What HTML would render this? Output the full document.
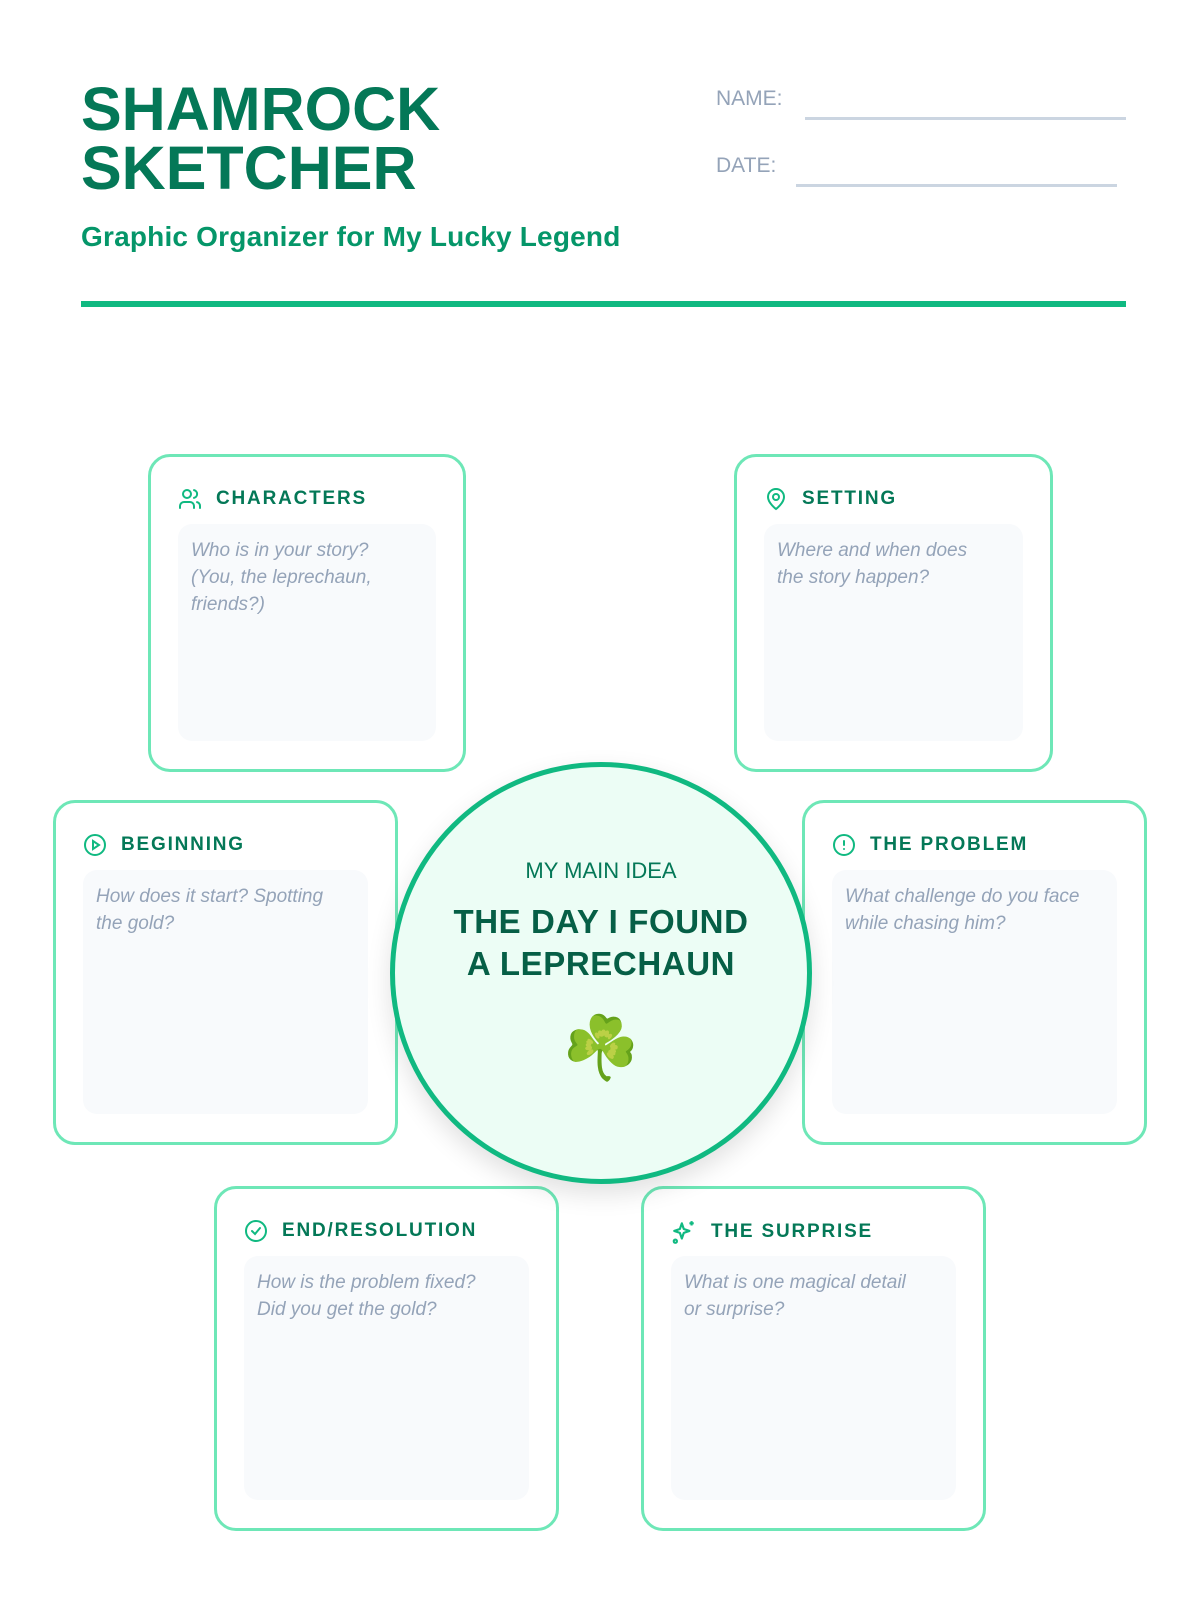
<!DOCTYPE html>
<html><head><meta charset="utf-8"><style>
*{box-sizing:border-box;margin:0;padding:0}
body{width:1200px;height:1600px;background:#fff;position:relative;font-family:"Liberation Sans",sans-serif;overflow:hidden}
.t{position:absolute;left:81px;top:80px;font-size:61px;font-weight:900;color:#047857;line-height:59px;letter-spacing:0px}
.sub{position:absolute;left:81px;top:221px;font-size:28px;color:#059669;font-weight:700;letter-spacing:0.2px}
.lab{position:absolute;font-size:21px;color:#94a3b8}
.ln{position:absolute;height:3px;background:#cbd5e1}
.bar{position:absolute;left:81px;top:301px;width:1045px;height:6px;background:#10b981}
.card{position:absolute;border:3px solid #6ee7b7;border-radius:22px;background:#fff}
.hd{position:absolute;left:27px;top:30px;display:flex;align-items:center;font-size:19px;font-weight:700;color:#047857;letter-spacing:1.8px}
.hd svg{margin-right:14px}
.in{position:absolute;left:27px;right:27px;top:67px;bottom:28px;background:#f8fafc;border-radius:14px;padding:13px 13px;font-style:italic;font-size:19px;line-height:27px;color:#94a3b8}
.circ{position:absolute;left:390px;top:762px;width:422px;height:422px;border-radius:50%;border:5px solid #10b981;background:#ecfdf5;box-shadow:0 10px 25px rgba(0,0,0,.12);text-align:center}
</style></head><body>
<div class="t">SHAMROCK<br>SKETCHER</div>
<div class="sub">Graphic Organizer for My Lucky Legend</div>
<div class="lab" style="left:716px;top:87px">NAME:</div>
<div class="ln" style="left:805px;top:117px;width:321px"></div>
<div class="lab" style="left:716px;top:154px">DATE:</div>
<div class="ln" style="left:796px;top:184px;width:321px"></div>
<div class="bar"></div>

<div class="card" style="left:148px;top:454px;width:318px;height:318px">
<div class="hd"><svg width="24" height="24" viewBox="0 0 24 24" fill="none" stroke="#10b981" stroke-width="2" stroke-linecap="round"><circle cx="9" cy="7" r="4"/><path d="M2 21v-2a4 4 0 0 1 4-4h6a4 4 0 0 1 4 4v2M16 3.1a4 4 0 0 1 0 7.8M22 21v-2a4 4 0 0 0-3-3.9"/></svg>CHARACTERS</div>
<div class="in">Who is in your story?<br>(You, the leprechaun,<br>friends?)</div></div>

<div class="card" style="left:734px;top:454px;width:319px;height:318px">
<div class="hd"><svg width="24" height="24" viewBox="0 0 24 24" fill="none" stroke="#10b981" stroke-width="2"><path d="M20 10c0 6-8 12-8 12S4 16 4 10a8 8 0 0 1 16 0z"/><circle cx="12" cy="10" r="3"/></svg>SETTING</div>
<div class="in">Where and when does<br>the story happen?</div></div>

<div class="card" style="left:53px;top:800px;width:345px;height:345px">
<div class="hd"><svg width="24" height="24" viewBox="0 0 24 24" fill="none" stroke="#10b981" stroke-width="2"><circle cx="12" cy="12" r="10"/><path d="M10 8l6 4-6 4z"/></svg>BEGINNING</div>
<div class="in">How does it start? Spotting<br>the gold?</div></div>

<div class="card" style="left:802px;top:800px;width:345px;height:345px">
<div class="hd"><svg width="24" height="24" viewBox="0 0 24 24" fill="none" stroke="#10b981" stroke-width="2" stroke-linecap="round"><circle cx="12" cy="12" r="10"/><path d="M12 8v4M12 16h.01"/></svg>THE PROBLEM</div>
<div class="in">What challenge do you face<br>while chasing him?</div></div>

<div class="card" style="left:214px;top:1186px;width:345px;height:345px">
<div class="hd"><svg width="24" height="24" viewBox="0 0 24 24" fill="none" stroke="#10b981" stroke-width="2" stroke-linecap="round"><circle cx="12" cy="12" r="10"/><path d="M8 12l3 3 5-6"/></svg>END/RESOLUTION</div>
<div class="in">How is the problem fixed?<br>Did you get the gold?</div></div>

<div class="card" style="left:641px;top:1186px;width:345px;height:345px">
<div class="hd"><svg width="26" height="26" viewBox="0 0 24 24" fill="none" stroke="#10b981" stroke-width="2" stroke-linejoin="round"><path d="M10 4l1.8 5.2L17 11l-5.2 1.8L10 18l-1.8-5.2L3 11l5.2-1.8z"/><path d="M19 2v4M17 4h4M4 19a1.5 1.5 0 1 0 .01 0"/></svg>THE SURPRISE</div>
<div class="in">What is one magical detail<br>or surprise?</div></div>

<div class="circ">
<div style="position:absolute;top:91px;width:100%;font-size:22px;color:#047857">MY MAIN IDEA</div>
<div style="position:absolute;top:134px;width:100%;font-size:33px;font-weight:700;color:#065f46;line-height:42px;letter-spacing:0.6px">THE DAY I FOUND<br>A LEPRECHAUN</div>
<div style="position:absolute;top:242px;width:100%;font-size:62px;line-height:80px;color:#22c55e">☘️</div>
</div>
</body></html>
